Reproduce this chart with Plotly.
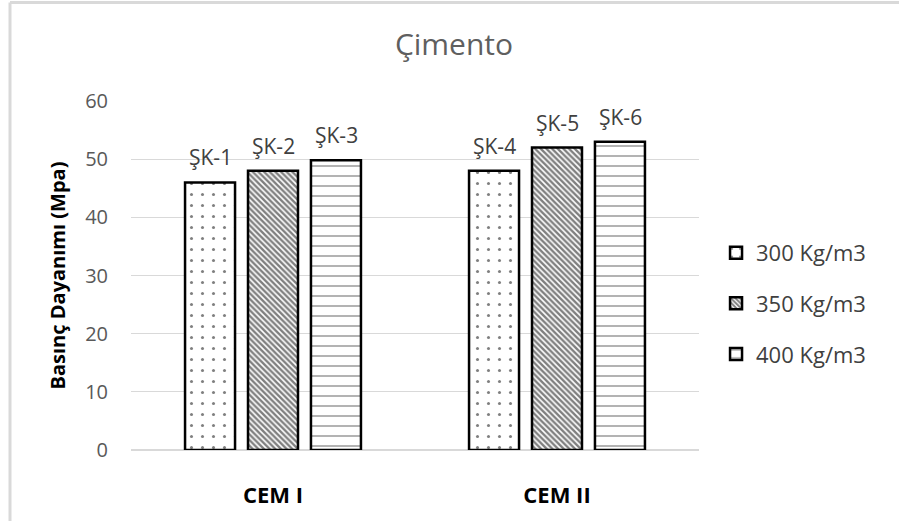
import plotly.graph_objects as go

categories = ["CEM I", "CEM II"]
series_names = ["300 Kg/m3", "350 Kg/m3", "400 Kg/m3"]
values_300 = [46, 48]
values_350 = [48, 52]
values_400 = [49.8, 53]
labels_300 = ["ŞK-1", "ŞK-4"]
labels_350 = ["ŞK-2", "ŞK-5"]
labels_400 = ["ŞK-3", "ŞK-6"]

FONT = "Open Sans"
patterns = [
    dict(shape=".", fgcolor="black", bgcolor="white", size=11, solidity=0.06),
    dict(shape="\\", fgcolor="black", bgcolor="white", size=4, solidity=0.6),
    dict(shape="-", fgcolor="black", bgcolor="white", size=10, solidity=0.12),
]

# pixel offset of each bar in a group (slot width of the grouped layout)
SLOT_PX = 63

fig = go.Figure()
annotations = []
series = [values_300, values_350, values_400]
labels = [labels_300, labels_350, labels_400]
for i, (name, vals, labs) in enumerate(zip(series_names, series, labels)):
    fig.add_trace(go.Bar(
        x=categories, y=vals, name=name,
        marker=dict(color="white", pattern=patterns[i],
                    line=dict(color="black", width=2.5)),
        legendgroup=name,
    ))
    for cat, v, lab in zip(categories, vals, labs):
        annotations.append(dict(
            x=cat, y=v, xref="x", yref="y", text=lab, showarrow=False,
            xshift=(i - 1) * SLOT_PX, yshift=25, yanchor="middle",
            font=dict(family=FONT, size=21, color="#404040"),
        ))

fig.update_layout(
    width=899, height=521,
    margin=dict(l=131, r=200, t=101, b=69),
    paper_bgcolor="white", plot_bgcolor="white",
    font=dict(family=FONT),
    title=dict(text="Çimento", x=0.505, xref="container", xanchor="center",
               y=0.914, yref="container", yanchor="middle",
               font=dict(family=FONT, size=30, color="#5f5f5f")),
    barmode="group", bargap=0.335, bargroupgap=0.206,
    showlegend=True,
    legend=dict(x=1.03, y=0.42, xanchor="left", yanchor="middle",
                font=dict(family=FONT, size=22, color="#404040"),
                tracegroupgap=19, itemwidth=30),
    yaxis=dict(range=[0, 60], dtick=10, showgrid=True, gridcolor="#d9d9d9",
               gridwidth=1, zeroline=True, zerolinecolor="#d9d9d9",
               tickfont=dict(family=FONT, size=20, color="#595959"),
               ticklabelstandoff=22, showline=False,
               title=dict(text="<b>Basınç Dayanımı (Mpa)</b>", standoff=14,
                          font=dict(family=FONT, size=20, color="black"))),
    xaxis=dict(showgrid=False, showline=False, ticks="",
               tickfont=dict(family=FONT, size=22, color="black"),
               tickprefix="<b>", ticksuffix="</b>", ticklabelstandoff=30),
    annotations=annotations,
    shapes=[
        dict(type="line", xref="paper", yref="paper",
             x0=(10 - 131) / 568, x1=(10 - 131) / 568,
             y0=(452 - 521) / 351 - 0.01, y1=1 + (101 - 2) / 351,
             line=dict(color="#d9d9d9", width=3)),
        dict(type="line", xref="paper", yref="paper",
             x0=(10 - 131) / 568, x1=(899 - 131) / 568 + 0.01,
             y0=1 + (101 - 2) / 351, y1=1 + (101 - 2) / 351,
             line=dict(color="#d9d9d9", width=3)),
    ],
)

fig.write_html("out.html")
